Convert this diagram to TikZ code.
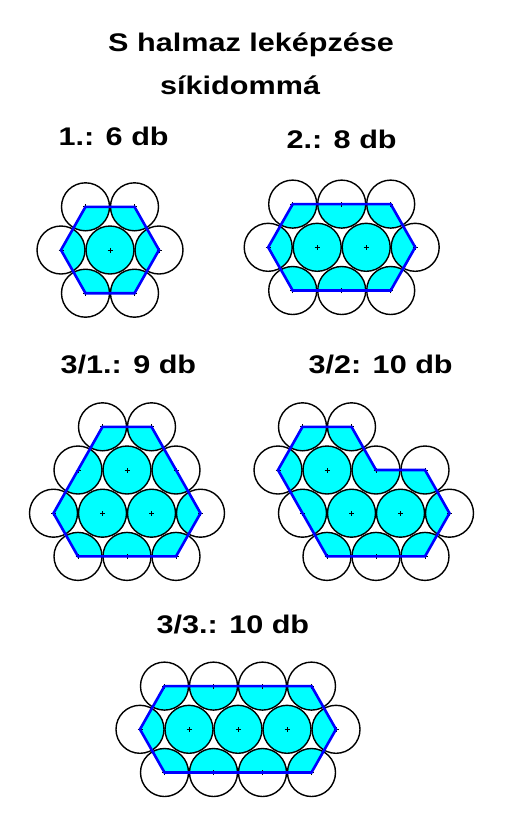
\documentclass[tikz,border=0pt]{standalone}
\usepackage{fontspec}
\newfontfamily\headfont{Liberation Sans}[FakeStretch=1.2]
\usepackage{tikz}
\definecolor{aqua}{RGB}{0,255,255}
\definecolor{rim}{RGB}{0,0,255}

% #1 circle centres, #2 outline, #3 shift
\newcommand{\honeycomb}[3]{%
\begin{scope}[shift={#3},x=24.5pt,y=-43.2pt]
  \begin{scope}
    \clip #2 -- cycle;
    \foreach \p in {#1} \fill[aqua] \p circle[radius=24pt];
  \end{scope}
  \foreach \p in {#1} {
    \draw[ring] \p circle[radius=24pt];
    \draw[cross] \p ++(-2.5pt,0) -- ++(5pt,0) \p ++(0,-2.5pt) -- ++(0,5pt);
  }
  \draw[hull] #2 -- cycle;
\end{scope}}

\begin{document}
\begin{tikzpicture}[x=1pt,y=-1pt,
  ring/.style={draw=black,line width=1.4pt},
  cross/.style={draw=black,line width=.8pt},
  hull/.style={draw=rim,line width=2.6pt,line join=miter},
  txt/.style={font=\headfont\bfseries\fontsize{25.5}{30}\selectfont,anchor=base west,inner sep=0pt}]
\useasboundingbox (0,0) rectangle (517,830);

\node[txt] at (108,51.7) (t0) {S halmaz leképzése};
\node[txt] at (160,94) (t1) {síkidommá};

\node[txt] at (58.5,145.7) (l1) {1.: 6 db};
\node[txt] at (286.5,148.3) (l2) {2.: 8 db};
\node[txt] at (60.5,373.3) (l31) {3/1.: 9 db};
\node[txt] at (308.5,373.3) (l32) {3/2: 10 db};
\node[txt] at (156.5,633.5) (l33) {3/3.: 10 db};

\honeycomb{(-1,-1),(1,-1),(-2,0),(0,0),(2,0),(-1,1),(1,1)}
  {(-1,-1) -- (1,-1) -- (2,0) -- (1,1) -- (-1,1) -- (-2,0)}{(110,250)}
\honeycomb{(-2,-1),(0,-1),(2,-1),(-3,0),(-1,0),(1,0),(3,0),(-2,1),(0,1),(2,1)}
  {(-2,-1) -- (2,-1) -- (3,0) -- (2,1) -- (-2,1) -- (-3,0)}{(341.7,247.3)}
\honeycomb{(-1,-1),(1,-1),(-2,0),(0,0),(2,0),(-3,1),(-1,1),(1,1),(3,1),(-2,2),(0,2),(2,2)}
  {(-1,-1) -- (1,-1) -- (3,1) -- (2,2) -- (-2,2) -- (-3,1)}{(127,470)}
\honeycomb{(-1,-1),(1,-1),(-2,0),(0,0),(2,0),(4,0),(-1,1),(1,1),(3,1),(5,1),(0,2),(2,2),(4,2)}
  {(-1,-1) -- (1,-1) -- (2,0) -- (4,0) -- (5,1) -- (4,2) -- (0,2) -- (-2,0)}{(327,470)}
\honeycomb{(-3,-1),(-1,-1),(1,-1),(3,-1),(-4,0),(-2,0),(0,0),(2,0),(4,0),(-3,1),(-1,1),(1,1),(3,1)}
  {(-3,-1) -- (3,-1) -- (4,0) -- (3,1) -- (-3,1) -- (-4,0)}{(238,729.3)}
\end{tikzpicture}
\end{document}
